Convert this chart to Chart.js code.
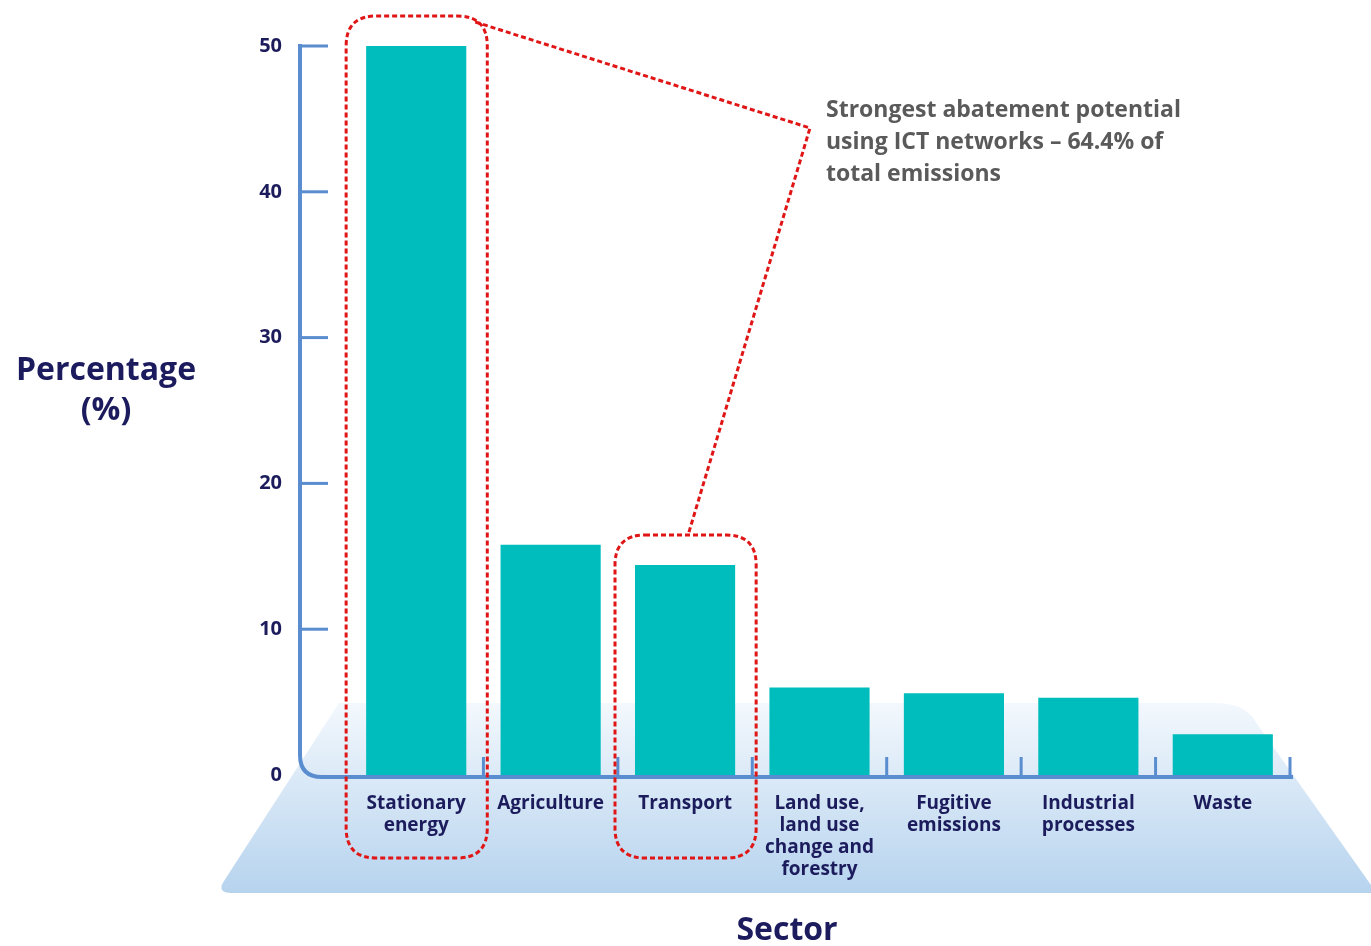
<!DOCTYPE html>
<html>
<head>
<meta charset="utf-8">
<script src="https://cdn.jsdelivr.net/npm/chart.js@4/dist/chart.umd.min.js"></script>
<style>
  body { margin: 0; background: #fff; }
  #wrap { position: relative; width: 1371px; height: 946px; font-family: "Open Sans", "Noto Sans", sans-serif; }
  #chart { position: absolute; left: 0; top: 0; }
  .ytitle { position: absolute; left: 0; top: 348px; width: 212px; text-align: center; font-size: 32px; line-height: 40px; font-weight: 700; color: #1b1b5e; }
  .xtitle { position: absolute; left: 687px; top: 908px; width: 200px; text-align: center; font-size: 32px; line-height: 40px; font-weight: 700; color: #1b1b5e; }
  .note { position: absolute; left: 826px; top: 92px; font-size: 23px; line-height: 32px; font-weight: 700; color: #5a5a5a; }
</style>
</head>
<body>
<div id="wrap">
  <canvas id="chart" width="1371" height="946"></canvas>
  <div class="ytitle">Percentage<br>(%)</div>
  <div class="xtitle">Sector</div>
  <div class="note">Strongest abatement potential<br>using ICT networks – 64.4% of<br>total emissions</div>
</div>
<script>
// sectors and their share of emissions (%)
const sectors = [
  ["Stationary", "energy"],
  ["Agriculture"],
  ["Transport"],
  ["Land use,", "land use", "change and", "forestry"],
  ["Fugitive", "emissions"],
  ["Industrial", "processes"],
  ["Waste"]
];
const shares = [50.0, 15.8, 14.4, 6.0, 5.6, 5.3, 2.8];
const yTicks = [0, 10, 20, 30, 40, 50];
const highlighted = [0, 2]; // Stationary energy + Transport = 64.4%

const navy = "#1c1c5c";
const axisBlue = "#5a8dcf";
const teal = "#00bdbd";
const red = "#e01515";

function roundRect(ctx, x, y, w, h, r) {
  ctx.beginPath();
  ctx.moveTo(x + r, y);
  ctx.lineTo(x + w - r, y);
  ctx.quadraticCurveTo(x + w, y, x + w, y + r);
  ctx.lineTo(x + w, y + h - r);
  ctx.quadraticCurveTo(x + w, y + h, x + w - r, y + h);
  ctx.lineTo(x + r, y + h);
  ctx.quadraticCurveTo(x, y + h, x, y + h - r);
  ctx.lineTo(x, y + r);
  ctx.quadraticCurveTo(x, y, x + r, y);
  ctx.closePath();
}

// light blue "floor" under the bars, then the axes on top of it
const floorPlugin = {
  id: "floor",
  beforeDraw(chart) {
    const ctx = chart.ctx;
    const ca = chart.chartArea;
    const top = ca.bottom - 72, bot = ca.bottom + 118;
    ctx.save();
    const g = ctx.createLinearGradient(0, top, 0, bot);
    g.addColorStop(0, "#f3f8fd");
    g.addColorStop(1, "#b6d3ee");
    ctx.fillStyle = g;
    ctx.beginPath();
    ctx.moveTo(ca.left - 10, top);
    ctx.lineTo(ca.right - 75, top);
    ctx.quadraticCurveTo(ca.right - 45, top, ca.right - 35, top + 18);
    ctx.lineTo(chart.width, bot - 8);
    ctx.lineTo(chart.width, bot);
    ctx.lineTo(232, bot);
    ctx.quadraticCurveTo(216, bot, 224, bot - 12);
    ctx.closePath();
    ctx.fill();
    ctx.restore();
  },
  beforeDatasetsDraw(chart) {
    const ctx = chart.ctx;
    const ca = chart.chartArea;
    const y = chart.scales.y, x = chart.scales.x;
    const ax = 300, base = ca.bottom + 2, r = 22;
    ctx.save();
    ctx.strokeStyle = axisBlue;
    ctx.lineWidth = 4;
    ctx.beginPath();
    ctx.moveTo(ax, y.getPixelForValue(50) - 2);
    ctx.lineTo(ax, base - r);
    ctx.quadraticCurveTo(ax, base, ax + r, base);
    const step = x.getPixelForValue(1) - x.getPixelForValue(0);
    const endX = x.getPixelForValue(sectors.length - 1) + step / 2;
    ctx.lineTo(endX + 3, base);
    ctx.stroke();
    ctx.lineWidth = 3;
    yTicks.forEach(v => {
      if (v === 0) return;
      const py = y.getPixelForValue(v);
      ctx.beginPath();
      ctx.moveTo(ax, py);
      ctx.lineTo(ax + 28, py);
      ctx.stroke();
    });
    for (let i = 1; i <= sectors.length; i++) {
      const px = x.getPixelForValue(i - 1) + step / 2;
      ctx.beginPath();
      ctx.moveTo(px, base);
      ctx.lineTo(px, base - 20);
      ctx.stroke();
    }
    ctx.restore();
  }
};

// red dotted call-out boxes and connector
const calloutPlugin = {
  id: "callout",
  afterDatasetsDraw(chart) {
    const ctx = chart.ctx;
    const meta = chart.getDatasetMeta(0);
    const bottom = chart.chartArea.bottom + 83;
    const boxes = highlighted.map(i => {
      const bar = meta.data[i];
      const left = bar.x - bar.width / 2 - 20;
      const right = bar.x + bar.width / 2 + 21;
      return { left, right, top: bar.y - 30, cx: bar.x };
    });
    ctx.save();
    ctx.strokeStyle = red;
    ctx.lineWidth = 3;
    ctx.setLineDash([5, 3]);
    boxes.forEach(b => {
      roundRect(ctx, b.left, b.top, b.right - b.left, bottom - b.top, 30);
      ctx.stroke();
    });
    const a = boxes[0], b = boxes[1];
    ctx.beginPath();
    ctx.moveTo(a.right - 12, a.top + 6);
    ctx.lineTo(810, 128);
    ctx.lineTo(b.cx + 3, b.top);
    ctx.stroke();
    ctx.restore();
  }
};

new Chart(document.getElementById("chart"), {
  type: "bar",
  data: {
    labels: sectors,
    datasets: [{
      data: shares,
      backgroundColor: teal,
      barPercentage: 0.745,
      categoryPercentage: 1
    }]
  },
  options: {
    responsive: false,
    animation: false,
    layout: { padding: { top: 46, right: 81, bottom: 0, left: 0 } },
    plugins: { legend: { display: false }, tooltip: { enabled: false } },
    scales: {
      x: {
        grid: { display: false, drawTicks: false },
        border: { display: false },
        ticks: {
          color: navy,
          font: { family: "'Open Sans', 'Noto Sans', sans-serif", size: 19, weight: "700", lineHeight: 1.15 },
          padding: 18,
          maxRotation: 0,
          autoSkip: false
        },
        afterFit(scale) { scale.height = 171; }
      },
      y: {
        min: 0,
        max: 50,
        grid: { display: false, drawTicks: false },
        border: { display: false },
        ticks: {
          stepSize: 10,
          color: navy,
          font: { family: "'Open Sans', 'Noto Sans', sans-serif", size: 20, weight: "700" },
          padding: 67
        },
        afterFit(scale) {
          scale.width = 349;
          scale.paddingTop = 0;
          scale.paddingBottom = 0;
        }
      }
    }
  },
  plugins: [floorPlugin, calloutPlugin]
});
</script>
</body>
</html>
